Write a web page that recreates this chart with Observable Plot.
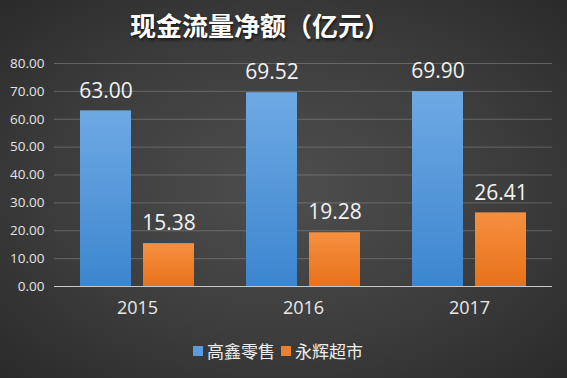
<!DOCTYPE html>
<html>
<head>
<meta charset="utf-8">
<script src="https://cdn.jsdelivr.net/npm/d3@7"></script>
<script src="https://cdn.jsdelivr.net/npm/@observablehq/plot@0.6"></script>
<style>
  html, body { margin: 0; padding: 0; }
  body { width: 567px; height: 378px; overflow: hidden;
    background: radial-gradient(ellipse at 50% 50%, #4e4e4e 0%, #3d3d3d 55%, #2a2a2a 100%);
    font-family: "Open Sans", "Noto Sans CJK SC", sans-serif; position: relative; }
  #title { position: absolute; top: 6px; left: 0; width: 520px; text-align: center;
    color: #fff; font-family: "Noto Sans CJK SC", sans-serif; font-weight: bold; font-size: 26px;
    line-height: 38px; text-shadow: 1px 2px 3px rgba(0,0,0,0.6); }
  #chart { position: absolute; top: 52px; left: 0; }
  #legend { position: absolute; top: 339px; left: 193px; display: flex; align-items: center;
    color: #eee; font-family: "Noto Sans CJK SC", sans-serif; font-size: 17px; line-height: 24px; }
  #legend .sw { width: 10px; height: 10px; display: inline-block; margin-right: 4px; }
  #legend .item { display: flex; align-items: center; margin-right: 6px; }
</style>
</head>
<body>
<div id="title">现金流量净额（亿元）</div>
<div id="chart"></div>
<div id="legend"></div>
<script>
const years = ["2015", "2016", "2017"];
const series = ["高鑫零售", "永辉超市"];
const gaoxin = [63.00, 69.52, 69.90];
const yonghui = [15.38, 19.28, 26.41];
const yTicks = [0, 10, 20, 30, 40, 50, 60, 70, 80];
const colors = ["#5a9be0", "#f07f2a"];

const data = [];
years.forEach((y, i) => {
  data.push({year: y, series: series[0], value: gaoxin[i]});
  data.push({year: y, series: series[1], value: yonghui[i]});
});

const fills = {"高鑫零售": "url(#gBlue)", "永辉超市": "url(#gOrange)"};

const chart = Plot.plot({
  width: 567,
  height: 275,
  marginLeft: 53,
  marginRight: 14,
  marginTop: 11,
  marginBottom: 41,
  style: {background: "transparent", color: "#e0e0e0", fontFamily: "'Open Sans', 'Noto Sans CJK SC', sans-serif", fontSize: "13px"},
  fx: {domain: years, padding: 0, label: null, axis: null},
  x: {domain: series, paddingInner: 0.1875, paddingOuter: 0.395, axis: null},
  y: {domain: [0, 80], label: null, axis: null},
  marks: [
    Plot.ruleY(yTicks.filter(d => d > 0), {stroke: "#9a9a9a", strokeOpacity: 0.45}),
    Plot.barY(data, {fx: "year", x: "series", y: "value", fill: d => fills[d.series]}),
    Plot.ruleY([0], {stroke: "#c8c8c8", strokeWidth: 1.2}),
    Plot.text(data, {fx: "year", x: "series", y: "value", text: d => d.value.toFixed(2),
      dy: -20, fill: "#f2f2f2", fontSize: 21}),
    Plot.axisY({ticks: yTicks, tickFormat: d => d.toFixed(2), tickSize: 0, tickPadding: 10, fill: "#e4e4e4", fontSize: 13.5, label: null}),
    Plot.axisFx({anchor: "bottom", tickSize: 0, tickPadding: 15, fill: "#e8e8e8", fontSize: 18, label: null})
  ]
});

const ns = "http://www.w3.org/2000/svg";
const defs = document.createElementNS(ns, "defs");
defs.innerHTML = `
  <linearGradient id="gBlue" x1="0" y1="0" x2="0" y2="1">
    <stop offset="0" stop-color="#6ea9e3"/>
    <stop offset="1" stop-color="#3c86cf"/>
  </linearGradient>
  <linearGradient id="gOrange" x1="0" y1="0" x2="0" y2="1">
    <stop offset="0" stop-color="#f5903f"/>
    <stop offset="1" stop-color="#e9711b"/>
  </linearGradient>`;
chart.insertBefore(defs, chart.firstChild);
document.getElementById("chart").appendChild(chart);

const legend = document.getElementById("legend");
series.forEach((s, i) => {
  const item = document.createElement("div");
  item.className = "item";
  const sw = document.createElement("span");
  sw.className = "sw";
  sw.style.background = colors[i];
  const t = document.createElement("span");
  t.textContent = s;
  item.appendChild(sw);
  item.appendChild(t);
  legend.appendChild(item);
});
</script>
</body>
</html>
